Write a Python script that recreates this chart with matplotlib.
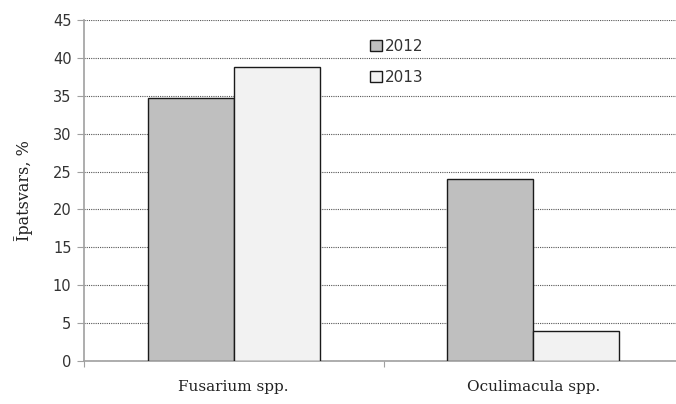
import numpy as np
import matplotlib.pyplot as plt

categories = ['Fusarium spp.', 'Oculimacula spp.']
years = ['2012', '2013']
values_2012 = [34.7, 24.0]
values_2013 = [38.8, 4.0]
yticks = [0, 5, 10, 15, 20, 25, 30, 35, 40, 45]

fig = plt.figure(figsize=(6.76, 4.04), dpi=100)
ax = fig.add_axes([84 / 676, 43 / 404, 599 / 676, 341 / 404])

x = np.arange(len(categories))
w = 0.287
ax.bar(x - w / 2, values_2012, w, color='#bfbfbf', edgecolor='#1a1a1a', linewidth=1.0,
       label=years[0], zorder=3)
ax.bar(x + w / 2, values_2013, w, color='#f2f2f2', edgecolor='#1a1a1a', linewidth=1.0,
       label=years[1], zorder=3)

ax.set_xlim(-0.5, 1.5)
ax.set_ylim(0, 45)
ax.set_yticks(yticks)
ax.set_yticklabels([str(t) for t in yticks], fontsize=10.5, color='#333333')
ax.yaxis.grid(True, linestyle=(0, (1, 1)), color='#555555', linewidth=0.8, zorder=0)
ax.set_axisbelow(True)

ax.set_xticks([-0.5, 0.5, 1.5])
ax.set_xticklabels([])
ax.set_xticks(x, minor=True)
ax.set_xticklabels(categories, minor=True, fontsize=11, family='DejaVu Serif', color='#222222')
ax.tick_params(axis='x', which='minor', length=0, pad=14)
ax.tick_params(axis='x', which='major', length=4, color='#a0a0a0')
ax.tick_params(axis='y', length=5, color='#a0a0a0', pad=4)

for s in ['top', 'right']:
    ax.spines[s].set_visible(False)
for s in ['left', 'bottom']:
    ax.spines[s].set_color('#a0a0a0')
    ax.spines[s].set_linewidth(1.2)

ax.set_ylabel('Īpatsvars, %', fontsize=11.5, family='DejaVu Serif', color='#222222', labelpad=14)

leg = ax.legend(loc='upper left', bbox_to_anchor=(0.455, 0.985), frameon=False, fontsize=11,
                handlelength=0.75, handleheight=0.75, handletextpad=0.2, labelspacing=1.05)
for t in leg.get_texts():
    t.set_color('#333333')

fig.savefig('out.png', dpi=100)
